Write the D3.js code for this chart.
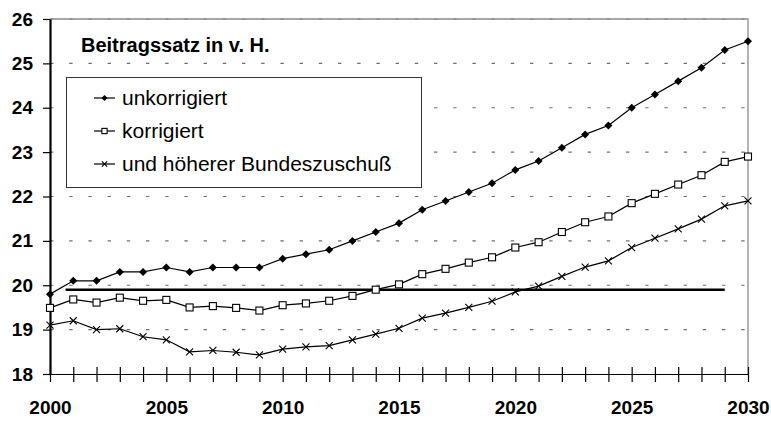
<!DOCTYPE html>
<html lang="de">
<head>
    <meta charset="UTF-8">
    <title>Beitragssatz in v. H.</title>
    <script src="https://d3js.org/d3.v7.min.js"></script>
    <style>
        body { margin: 0; background: #fff; }
        svg { display: block; font-family: "Liberation Sans", Arial, sans-serif; }
        .tick text { font-weight: bold; font-size: 19px; fill: #000; }
    </style>
</head>
<body>
    <svg id="chart"></svg>

    <script>
        const width = 771, height = 421;

        // Jahre 2000..2030
        const years = [2000, 2001, 2002, 2003, 2004, 2005, 2006, 2007, 2008, 2009,
                       2010, 2011, 2012, 2013, 2014, 2015, 2016, 2017, 2018, 2019,
                       2020, 2021, 2022, 2023, 2024, 2025, 2026, 2027, 2028, 2029, 2030];
        const yearLabels = [2000, 2005, 2010, 2015, 2020, 2025, 2030];
        const yTicks = [18, 19, 20, 21, 22, 23, 24, 25, 26];

        const unkorrigiert = [19.8, 20.1, 20.1, 20.3, 20.3, 20.4, 20.3, 20.4, 20.4, 20.4,
                              20.6, 20.7, 20.8, 21.0, 21.2, 21.4, 21.7, 21.9, 22.1, 22.3,
                              22.6, 22.8, 23.1, 23.4, 23.6, 24.0, 24.3, 24.6, 24.9, 25.3, 25.5];
        const korrigiert = [19.49, 19.68, 19.61, 19.72, 19.65, 19.67, 19.5, 19.53, 19.49, 19.43,
                            19.55, 19.59, 19.65, 19.76, 19.9, 20.02, 20.25, 20.37, 20.51, 20.63,
                            20.85, 20.97, 21.2, 21.42, 21.55, 21.85, 22.06, 22.27, 22.48, 22.78, 22.9];
        const bundeszuschuss = [19.1, 19.2, 19.0, 19.02, 18.84, 18.77, 18.5, 18.53, 18.49, 18.43,
                                18.56, 18.61, 18.64, 18.77, 18.9, 19.03, 19.26, 19.37, 19.5, 19.64,
                                19.85, 19.98, 20.2, 20.41, 20.55, 20.85, 21.06, 21.27, 21.49, 21.79, 21.9];

        // waagerechte Linie bei 19,9
        const refLevel = 19.9;
        const refYears = [2000.67, 2029];

        const seriesNames = ["unkorrigiert", "korrigiert", "und höherer Bundeszuschuß"];
        const seriesValues = [unkorrigiert, korrigiert, bundeszuschuss];
        const seriesMarkers = ["diamond", "square", "cross"];

        const svg = d3.select("#chart").attr("width", width).attr("height", height);

        const x = d3.scaleLinear().domain([2000, 2030]).range([50, 748]);
        const y = d3.scaleLinear().domain([18, 26]).range([374, 19]);

        // Gitterlinien
        svg.append("g").selectAll("line").data(yTicks.slice(1)).join("line")
            .attr("x1", x(2000)).attr("x2", x(2030))
            .attr("y1", d => y(d)).attr("y2", d => y(d))
            .attr("stroke", "#707070").attr("stroke-width", 1.2)
            .attr("stroke-dasharray", "3.4,15.8");

        // Rahmen oben und rechts
        svg.append("path")
            .attr("d", `M${x(2000)},${y(26)}H${x(2030)}V${y(18)}`)
            .attr("fill", "none").attr("stroke", "#8a8a8a").attr("stroke-width", 1.3);

        // Achsen
        const xAxis = svg.append("g")
            .attr("transform", `translate(0,${y(18)})`)
            .call(d3.axisBottom(x).tickValues(years)
                .tickFormat(d => yearLabels.includes(d) ? d : "")
                .tickSize(8).tickSizeOuter(0).tickPadding(19));
        xAxis.select(".domain").attr("stroke", "#000").attr("stroke-width", 1.2);
        xAxis.selectAll(".tick line").attr("y1", -7).attr("stroke-width", 1.2);

        const yAxis = svg.append("g")
            .attr("transform", `translate(${x(2000)},0)`)
            .call(d3.axisLeft(y).tickValues(yTicks).tickSize(7).tickSizeOuter(0).tickPadding(10));
        yAxis.select(".domain").attr("stroke", "#000").attr("stroke-width", 2.2);
        yAxis.selectAll(".tick line").attr("stroke-width", 1.2);

        // Referenzlinie
        svg.append("line")
            .attr("x1", x(refYears[0])).attr("x2", x(refYears[1]))
            .attr("y1", y(refLevel)).attr("y2", y(refLevel))
            .attr("stroke", "#000").attr("stroke-width", 2.6);

        function drawMarker(g, type, k) {
            const r = 4 * k, h = 3.5 * k;
            if (type === "diamond") {
                g.append("path").attr("d", `M0,${-r}L${r},0L0,${r}L${-r},0Z`).attr("fill", "#000");
            } else if (type === "square") {
                g.append("rect").attr("x", -h).attr("y", -h).attr("width", 2 * h).attr("height", 2 * h)
                    .attr("fill", "#fff").attr("stroke", "#000").attr("stroke-width", 1.1);
            } else {
                g.append("path").attr("d", `M${-h},${-h}L${h},${h}M${-h},${h}L${h},${-h}`)
                    .attr("stroke", "#000").attr("stroke-width", 1.1);
            }
        }

        const line = d3.line().x((d, i) => x(years[i])).y(d => y(d));

        seriesValues.forEach((vals, s) => {
            svg.append("path").datum(vals)
                .attr("d", line)
                .attr("fill", "none").attr("stroke", "#000").attr("stroke-width", 1.2);
            svg.append("g").selectAll("g").data(vals).join("g")
                .attr("transform", (d, i) => `translate(${x(years[i])},${y(d)})`)
                .each(function () { drawMarker(d3.select(this), seriesMarkers[s], 1); });
        });

        // Titel
        svg.append("text")
            .attr("x", 81).attr("y", 52)
            .attr("font-weight", "bold").attr("font-size", 20)
            .text("Beitragssatz in v. H.");

        // Legende
        const legend = svg.append("g");
        legend.append("rect")
            .attr("x", 66.5).attr("y", 77.5).attr("width", 355).attr("height", 110)
            .attr("fill", "#fff").attr("stroke", "#333").attr("stroke-width", 1);

        seriesNames.forEach((name, s) => {
            const cy = 98 + s * 33;
            legend.append("line").attr("x1", 94).attr("x2", 115).attr("y1", cy).attr("y2", cy)
                .attr("stroke", "#000").attr("stroke-width", 1.2);
            const m = legend.append("g").attr("transform", `translate(104.5,${cy})`);
            drawMarker(m, seriesMarkers[s], 0.75);
            legend.append("text").attr("x", 122).attr("y", cy).attr("dy", "0.35em")
                .attr("font-size", 21).text(name);
        });
    </script>
</body>
</html>
